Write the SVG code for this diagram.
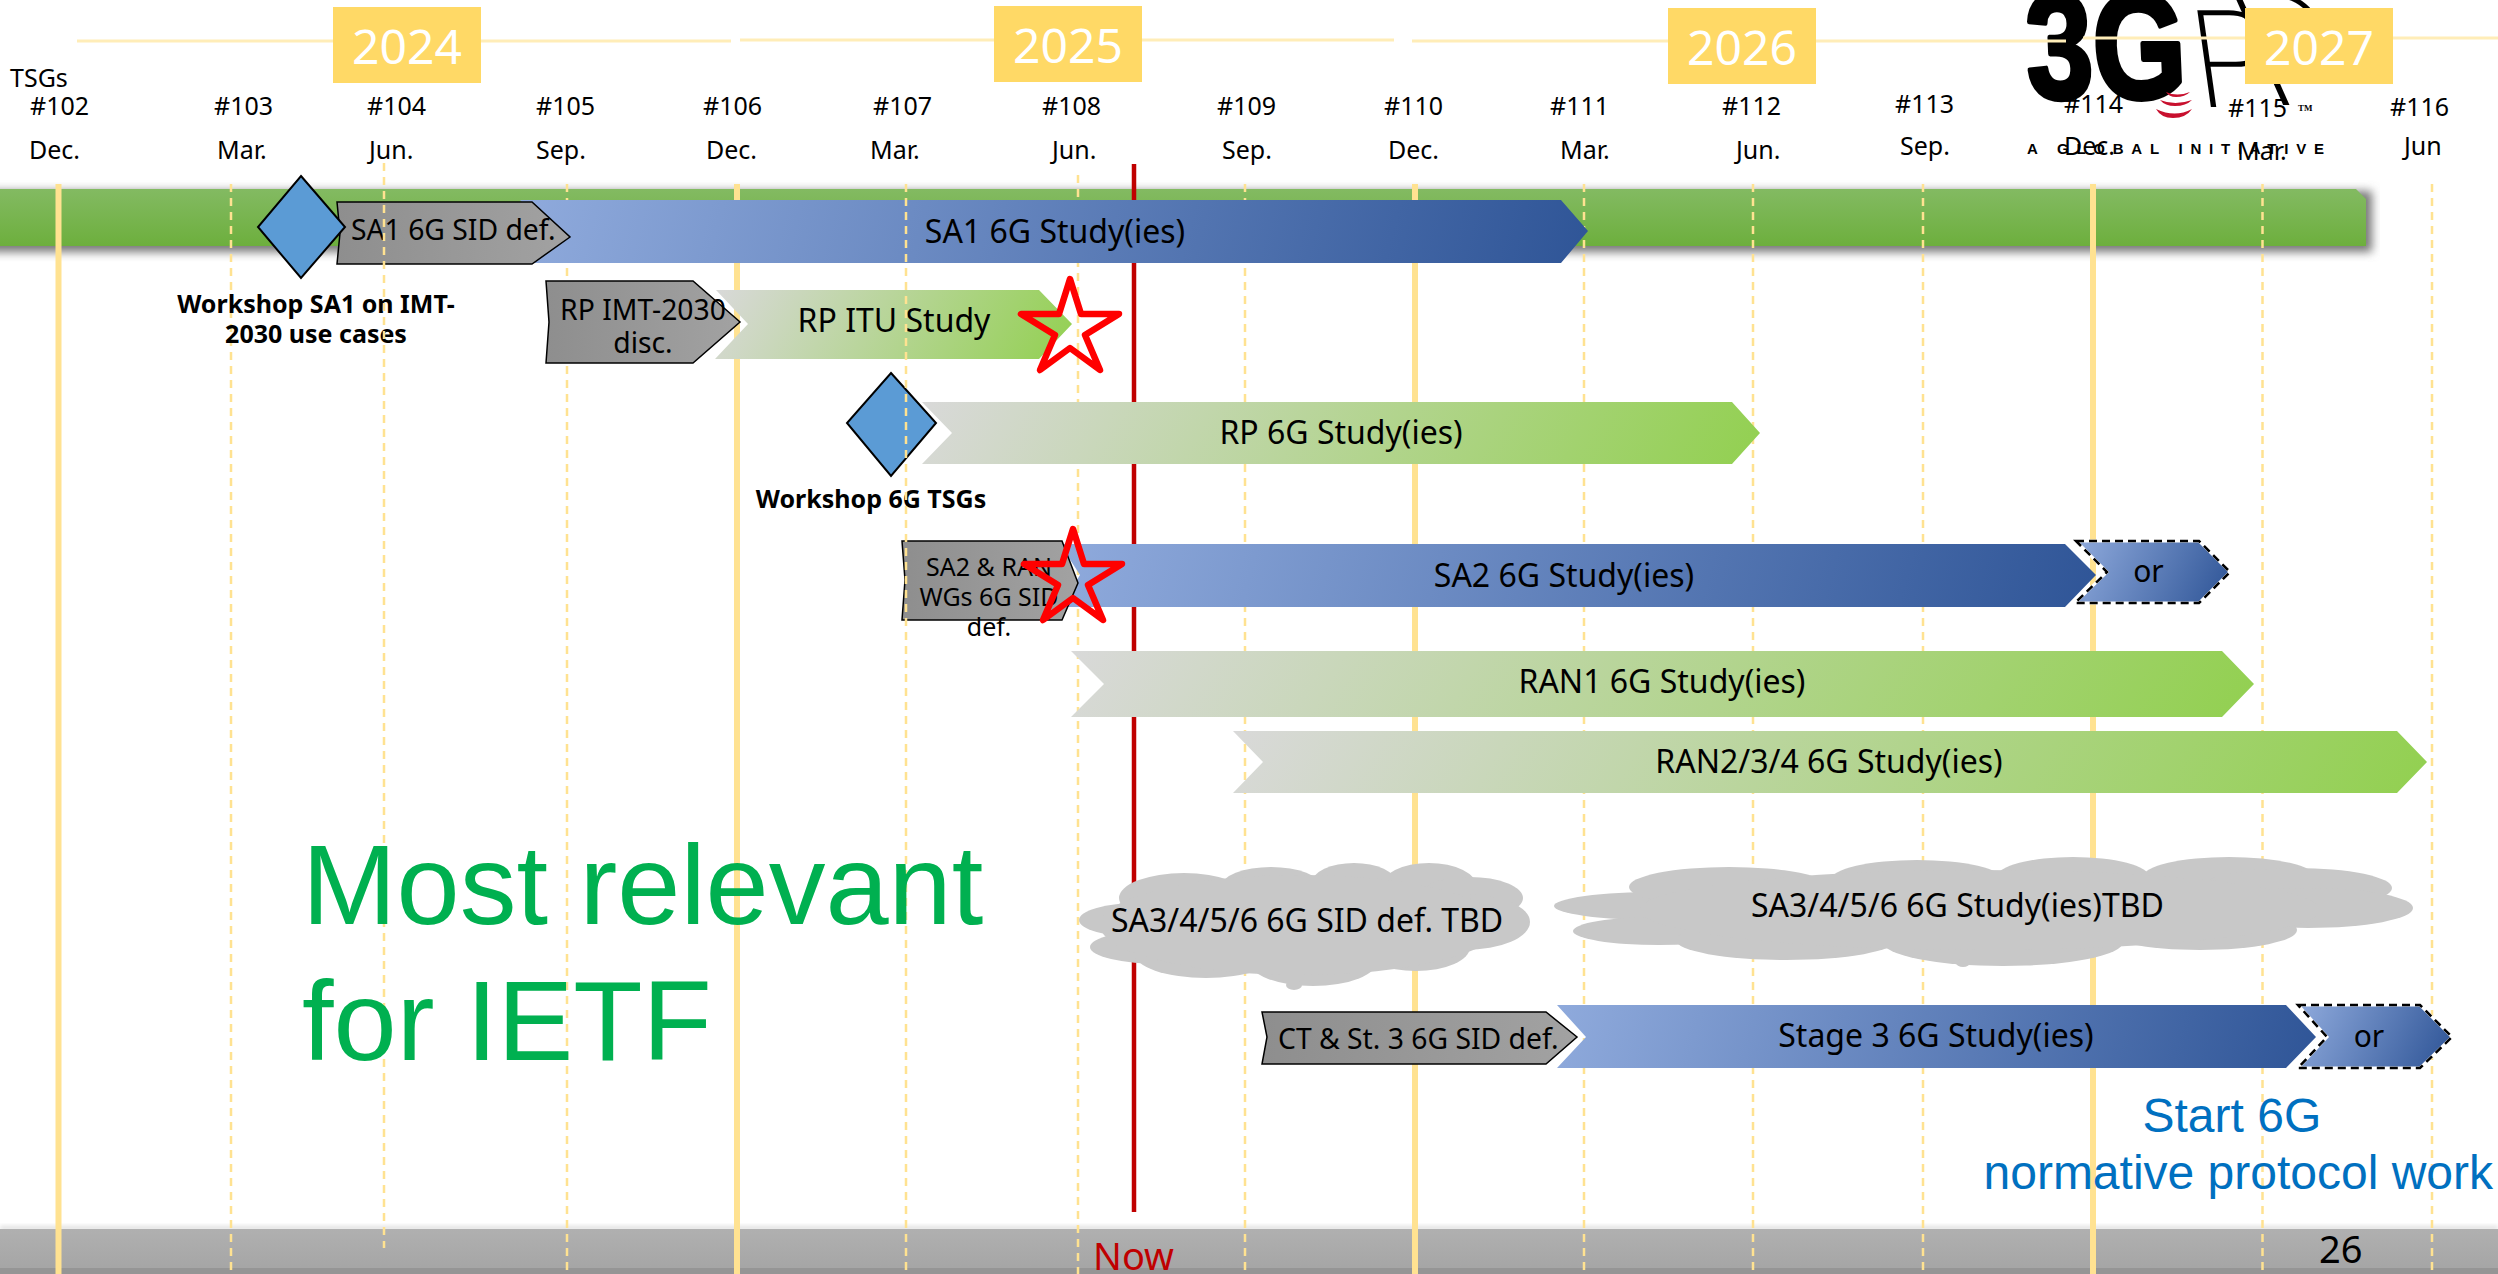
<svg xmlns="http://www.w3.org/2000/svg" xmlns:xlink="http://www.w3.org/1999/xlink" width="2498" height="1274" viewBox="0 0 2498 1274">
<style>
text{font-family:"Noto Sans","Open Sans","DejaVu Sans",sans-serif;fill:#000}
.tick{font-size:25px}
.year{font-size:48px;fill:#fff;text-anchor:middle}
.yb{fill:#FFD966}
.lab{font-size:32px;text-anchor:middle}
.sid{font-size:28.3px}
.ws{font-size:25px;font-weight:700;text-anchor:middle}
.gray{fill:url(#gg);stroke:#000;stroke-width:1.5}
.dia{fill:#5B9BD5;stroke:#000;stroke-width:2}
.star{fill:none;stroke:#f00;stroke-width:6.5;stroke-linejoin:round}
.sol{stroke:#FFE291;stroke-width:6;fill:none}
.das{stroke:#FFE291;stroke-width:2.5;stroke-dasharray:8 6;fill:none}
.top{stroke:#FFEDB8;stroke-width:3;fill:none}
.cloud{fill:#C8C8C8}
.w1{stroke:#fff;stroke-width:3;stroke-linejoin:miter}
.d1{fill:none;stroke:#000;stroke-width:2.5;stroke-dasharray:8 5}
</style>
<defs>
<linearGradient id="bar" x1="0" y1="0" x2="0" y2="1"><stop offset="0" stop-color="#83BA62"/><stop offset="1" stop-color="#6DAF3D"/></linearGradient>
<linearGradient id="foot" x1="0" y1="0" x2="0" y2="1"><stop offset="0" stop-color="#B0B0B0"/><stop offset="1" stop-color="#A4A4A4"/></linearGradient>
<linearGradient id="gg" x1="0" y1="0" x2="1" y2="0"><stop offset="0" stop-color="#8E8E8E"/><stop offset="1" stop-color="#A2A2A2"/></linearGradient>
<linearGradient id="bl"><stop offset="0" stop-color="#8FAADC"/><stop offset="1" stop-color="#2F5597"/></linearGradient>
<linearGradient id="gr"><stop offset="0" stop-color="#D9D9D9"/><stop offset="1" stop-color="#92D050"/></linearGradient>
<linearGradient id="b1" href="#bl" gradientUnits="userSpaceOnUse" x1="520" y1="200" x2="1532" y2="471"/>
<linearGradient id="b2" href="#bl" gradientUnits="userSpaceOnUse" x1="1060" y1="544" x2="2042" y2="807"/>
<linearGradient id="b3" href="#bl" gradientUnits="userSpaceOnUse" x1="1557" y1="1005" x2="2281" y2="1199"/>
<linearGradient id="b4" href="#bl" gradientUnits="userSpaceOnUse" x1="2076" y1="541" x2="2222" y2="612"/>
<linearGradient id="b5" href="#bl" gradientUnits="userSpaceOnUse" x1="2298" y1="1005" x2="2444" y2="1076"/>
<linearGradient id="g1" href="#gr" gradientUnits="userSpaceOnUse" x1="715" y1="290" x2="1013" y2="462"/>
<linearGradient id="g2" href="#gr" gradientUnits="userSpaceOnUse" x1="922" y1="402" x2="1577" y2="780"/>
<linearGradient id="g3" href="#gr" gradientUnits="userSpaceOnUse" x1="1071" y1="651" x2="1987" y2="1180"/>
<linearGradient id="g4" href="#gr" gradientUnits="userSpaceOnUse" x1="1233" y1="731" x2="2155" y2="1263"/>
<filter id="blur" x="-2%" y="-60%" width="104%" height="220%"><feGaussianBlur stdDeviation="5"/></filter>
<filter id="blur2" x="-2%" y="-60%" width="104%" height="220%"><feGaussianBlur stdDeviation="2"/></filter>
<clipPath id="shc"><rect x="0" y="180" width="2380" height="82"/></clipPath>
</defs>

<g id="bars">
<g clip-path="url(#shc)"><rect x="-40" y="191" width="2412" height="61" fill="#777" filter="url(#blur)"/></g>
<polygon points="0,189 2356,189 2366,199 2366,246 0,246" fill="url(#bar)"/>
<rect x="0" y="1226" width="2498" height="4" fill="#ddd" filter="url(#blur2)"/>
<rect x="0" y="1229" width="2498" height="45" fill="url(#foot)"/>
<rect x="0" y="1268" width="2498" height="6" fill="#959595"/>
</g>

<g id="logo-3gpp">
<text transform="translate(2028,98) scale(.8,1) skewX(3)" stroke="#000" stroke-width="5" stroke-linejoin="round" style="font-family:'Liberation Sans',sans-serif;font-size:150px;font-weight:700">3G</text>
<text transform="translate(2198,107) skewX(8)" style="font-family:Roboto,sans-serif;font-size:136px;font-weight:200">P</text>
<text transform="translate(2268,105) skewX(24)" style="font-family:Roboto,sans-serif;font-size:160px;font-weight:200">P</text>
<path d="M2166 92Q2177 97 2190 92Q2185 97 2176 97Q2169 97 2166 92Z M2160 100Q2175 106 2192 100Q2186 106 2175 106Q2165 106 2160 100Z M2156 109Q2175 118 2192 109Q2186 118 2173 118Q2161 118 2156 109Z" fill="#C8102E"/>
<text x="2298" y="111" style="font-family:'Liberation Serif',serif;font-size:9px;font-weight:700">TM</text>
<text x="2027" y="154" textLength="297" lengthAdjust="spacing" style="font-family:'Liberation Sans',sans-serif;font-size:15px;font-weight:700">A GLOBAL INITIATIVE</text>
</g>

<g id="grid">
<line class="sol" x1="58.5" y1="184" x2="58.5" y2="1274"/>
<line class="sol" x1="737" y1="184" x2="737" y2="1274"/>
<line class="sol" x1="1415" y1="184" x2="1415" y2="1274"/>
<line class="sol" x1="2093" y1="184" x2="2093" y2="1274"/>
<line class="das" x1="231" y1="184" x2="231" y2="1274"/>
<line class="das" x1="567" y1="184" x2="567" y2="1274"/>
<line class="das" x1="1078" y1="175" x2="1078" y2="1274"/>
<line class="das" x1="1245" y1="184" x2="1245" y2="1274"/>
<line class="das" x1="1584" y1="184" x2="1584" y2="1274"/>
<line class="das" x1="1753" y1="184" x2="1753" y2="1274"/>
<line class="das" x1="1923" y1="184" x2="1923" y2="1274"/>
<line class="das" x1="2262.5" y1="184" x2="2262.5" y2="1274"/>
<line class="das" x1="2432" y1="184" x2="2432" y2="1274"/>
<line x1="1134" y1="164" x2="1134" y2="1212" stroke="#C00000" stroke-width="4.5"/>
<line class="top" x1="77" y1="41" x2="731" y2="41"/>
<line class="top" x1="740" y1="40" x2="1394" y2="40"/>
<line class="top" x1="1412" y1="41" x2="2066" y2="41"/>
<line class="top" x1="2083" y1="38" x2="2498" y2="38"/>
</g>

<g id="years">
<rect class="yb" x="333" y="7" width="148" height="76"/><text class="year" x="407" y="64">2024</text>
<rect class="yb" x="994" y="6" width="148" height="76"/><text class="year" x="1068" y="63">2025</text>
<rect class="yb" x="1668" y="8" width="148" height="76"/><text class="year" x="1742" y="65">2026</text>
<rect class="yb" x="2245" y="8" width="148" height="76"/><text class="year" x="2319" y="65">2027</text>
</g>

<g id="ticks" class="tick">
<text x="10" y="87">TSGs</text>
<text x="30" y="115">#102</text><text x="29" y="159">Dec.</text>
<text x="214" y="115">#103</text><text x="217" y="159">Mar.</text>
<text x="367" y="115">#104</text><text x="369" y="159">Jun.</text>
<text x="536" y="115">#105</text><text x="536" y="159">Sep.</text>
<text x="703" y="115">#106</text><text x="706" y="159">Dec.</text>
<text x="873" y="115">#107</text><text x="870" y="159">Mar.</text>
<text x="1042" y="115">#108</text><text x="1052" y="159">Jun.</text>
<text x="1217" y="115">#109</text><text x="1222" y="159">Sep.</text>
<text x="1384" y="115">#110</text><text x="1388" y="159">Dec.</text>
<text x="1550" y="115">#111</text><text x="1560" y="159">Mar.</text>
<text x="1722" y="115">#112</text><text x="1736" y="159">Jun.</text>
<text x="1895" y="113">#113</text><text x="1900" y="155">Sep.</text>
<text x="2064" y="113">#114</text><text x="2064" y="155">Dec.</text>
<text x="2228" y="117">#115</text><text x="2237" y="160">Mar.</text>
<text x="2390" y="116">#116</text><text x="2404" y="155">Jun</text>
</g>

<g id="node-sa1-study">
<polygon points="520,200 1561,200 1588,231 1561,263 520,263 550,231" fill="url(#b1)"/>
<text class="lab" x="1055" y="243">SA1 6G Study(ies)</text>
</g>
<g id="node-sa1-sid">
<polygon class="gray" points="337,202 532,202 570,237 532,264 337,264 340,233"/>
<text class="sid" x="351" y="240">SA1 6G SID def.</text>
</g>
<g id="node-workshop-sa1">
<polygon class="dia" points="301,176 345,227 301,278 258,227"/>
<text class="ws" x="316" y="313">Workshop SA1 on IMT-</text>
<text class="ws" x="316" y="343">2030 use cases</text>
</g>
<g id="node-rp-itu">
<polygon points="716,290 1039,290 1072,324 1039,359 715,359 748,324" fill="url(#g1)"/>
<text class="lab" x="894" y="332">RP ITU Study</text>
</g>
<g id="node-rp-imt">
<polygon class="gray" points="546,281 693,281 740,322 693,363 546,363 549,322"/>
<text class="sid" x="643" y="320" text-anchor="middle">RP IMT-2030</text>
<text class="sid" x="643" y="353" text-anchor="middle">disc.</text>
</g>
<g id="node-rp-6g">
<polygon points="922,402 1732,402 1760,433 1732,464 922,464 952,433" fill="url(#g2)"/>
<text class="lab" x="1341" y="444">RP 6G Study(ies)</text>
</g>
<g id="node-workshop-tsg">
<polygon class="dia" points="891,373 936,423 891,476 847,423"/>
<text class="ws" x="871" y="508">Workshop 6G TSGs</text>
</g>
<g id="node-sa2-study">
<polygon points="1060,544 2065,544 2096,575 2065,607 1060,607 1080,575" fill="url(#b2)"/>
<text class="lab" x="1564" y="587">SA2 6G Study(ies)</text>
</g>
<g id="node-sa2-or">
<polygon class="w1" points="2076,541 2199,541 2230,572 2199,603 2075,603 2107,572" fill="url(#b4)"/>
<polygon class="d1" points="2076,541 2199,541 2230,572 2199,603 2075,603 2107,572"/>
<text x="2148.5" y="582" text-anchor="middle" font-size="30">or</text>
</g>
<g id="node-sa2-sid">
<polygon class="gray" points="902,541 1062,541 1078,583 1062,620 902,620 905,580"/>
<text x="989" y="576" text-anchor="middle" font-size="25">SA2 &amp; RAN</text>
<text x="989" y="606" text-anchor="middle" font-size="25">WGs 6G SID</text>
<text x="989" y="636" text-anchor="middle" font-size="25">def.</text>
</g>
<g id="node-ran1">
<polygon points="1071,651 2222,651 2254,684 2222,717 1071,717 1104,684" fill="url(#g3)"/>
<text class="lab" x="1662" y="693">RAN1 6G Study(ies)</text>
</g>
<g id="node-ran234">
<polygon points="1233,731 2397,731 2427,762 2397,793 1233,793 1263,762" fill="url(#g4)"/>
<text class="lab" x="1829" y="773">RAN2/3/4 6G Study(ies)</text>
</g>

<g id="node-cloud-sid">
<g class="cloud">
<ellipse cx="1139" cy="920" rx="60" ry="17"/><ellipse cx="1162" cy="947" rx="72" ry="17"/><ellipse cx="1184" cy="898" rx="65" ry="25"/><ellipse cx="1206" cy="953" rx="72" ry="25"/><ellipse cx="1271" cy="887" rx="50" ry="20"/><ellipse cx="1354" cy="883" rx="42" ry="20"/><ellipse cx="1429" cy="887" rx="48" ry="24"/><ellipse cx="1470" cy="898" rx="53" ry="21"/><ellipse cx="1465" cy="922" rx="65" ry="28"/><ellipse cx="1416" cy="947" rx="54" ry="24"/><ellipse cx="1313" cy="960" rx="65" ry="26"/><ellipse cx="1294" cy="985" rx="8" ry="5"/><ellipse cx="1300" cy="925" rx="200" ry="50"/>
</g>
<text x="1111" y="932" font-size="32">SA3/4/5/6 6G SID def. TBD</text>
</g>
<g id="node-cloud-study">
<g class="cloud">
<ellipse cx="1659" cy="906" rx="105" ry="14"/><ellipse cx="1659" cy="931" rx="86" ry="14"/><ellipse cx="1729" cy="887" rx="100" ry="20"/><ellipse cx="1786" cy="940" rx="110" ry="20"/><ellipse cx="1917" cy="880" rx="86" ry="20"/><ellipse cx="2073" cy="877" rx="76" ry="20"/><ellipse cx="2229" cy="877" rx="86" ry="20"/><ellipse cx="2296" cy="888" rx="96" ry="20"/><ellipse cx="2308" cy="908" rx="105" ry="20"/><ellipse cx="2200" cy="930" rx="97" ry="20"/><ellipse cx="2003" cy="942" rx="120" ry="24"/><ellipse cx="1963" cy="963" rx="7" ry="4"/><ellipse cx="1980" cy="910" rx="340" ry="40"/>
</g>
<text x="1751" y="917" font-size="32">SA3/4/5/6 6G Study(ies)TBD</text>
</g>
<g id="node-ct-sid">
<polygon class="gray" points="1262,1012 1546,1012 1577,1037 1546,1064 1262,1064 1267,1037"/>
<text class="sid" x="1278" y="1049">CT &amp; St. 3 6G SID def.</text>
</g>
<g id="node-stage3">
<polygon points="1557,1005 2286,1005 2316,1037 2286,1068 1557,1068 1586,1037" fill="url(#b3)"/>
<text class="lab" x="1936" y="1047">Stage 3 6G Study(ies)</text>
</g>
<g id="node-stage3-or">
<polygon class="w1" points="2298,1005 2420,1005 2452,1037 2420,1068 2298,1068 2327,1037" fill="url(#b5)"/>
<polygon class="d1" points="2298,1005 2420,1005 2452,1037 2420,1068 2298,1068 2327,1037"/>
<text x="2369" y="1047" text-anchor="middle" font-size="30">or</text>
</g>

<g id="overlay-lines">
<line class="das" x1="384" y1="163" x2="384" y2="1248"/>
<line class="das" x1="906" y1="184" x2="906" y2="1274"/>
</g>

<g id="stars">
<polygon class="star" points="1070,279 1081,314 1119,314 1085,335 1100,370 1070,348 1040,370 1055,335 1021,314 1059,314"/>
<polygon class="star" points="1073,529 1084,564 1122,564 1088,585 1103,620 1073,598 1043,620 1058,585 1024,564 1062,564"/>
</g>

<g id="captions">
<text x="302" y="924" font-size="113.5" style="fill:#00B050;font-family:'Liberation Sans',Arial,sans-serif">Most relevant</text>
<text x="302" y="1060" font-size="113.5" style="fill:#00B050;font-family:'Liberation Sans',Arial,sans-serif">for IETF</text>
<text x="2142.5" y="1132" font-size="48" style="fill:#0070C0;font-family:'Liberation Sans',Arial,sans-serif">Start 6G</text>
<text x="1983.5" y="1189" font-size="48" style="fill:#0070C0;font-family:'Liberation Sans',Arial,sans-serif">normative protocol work</text>
<text x="1093" y="1270" font-size="38" style="fill:#C00000">Now</text>
<text x="2319" y="1263" font-size="38">26</text>
</g>
</svg>
